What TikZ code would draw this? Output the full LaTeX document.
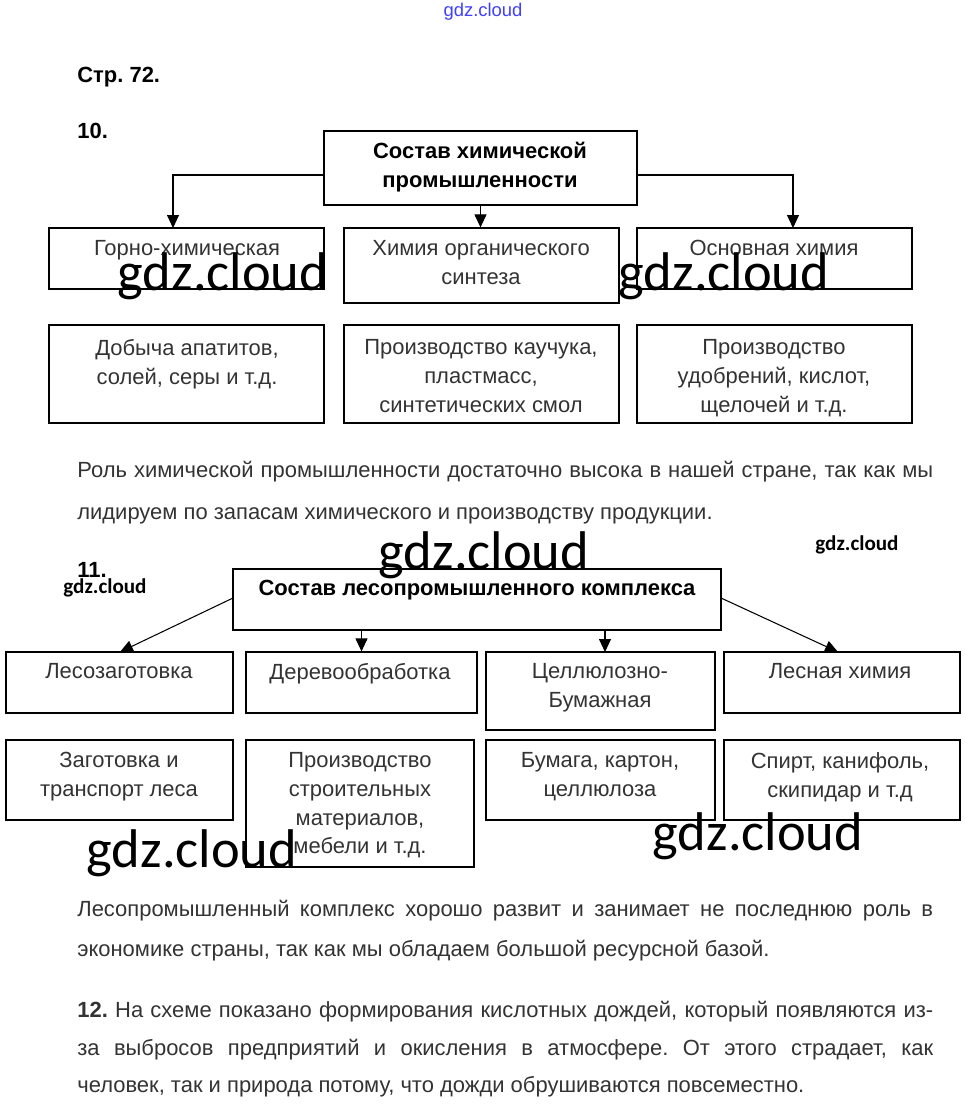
\documentclass[tikz,border=0pt]{standalone}
\usepackage{fontspec}
\setmainfont{Liberation Sans}
\newfontfamily\wmfont{Carlito}
\usetikzlibrary{arrows.meta,fit}
\frenchspacing

\begin{document}
\begin{tikzpicture}[x=0.02cm,y=-0.02cm,
	box/.style={draw,line width=0.7pt,inner sep=0pt},
	boxtxt/.style={anchor=north,align=center,inner sep=0pt,text=black!80,font=\fontsize{12.5}{16.4}\selectfont},
	head/.style={anchor=north,align=center,inner sep=0pt,font=\bfseries\fontsize{12.5}{16.4}\selectfont},
	para/.style={anchor=base west,inner sep=0pt,text=black!80,font=\fontsize{12.5}{15}\selectfont},
	num/.style={anchor=base west,inner sep=0pt,font=\bfseries\fontsize{12.5}{15}\selectfont},
	wm/.style={inner sep=0pt,font=\wmfont\fontsize{31}{31}\selectfont},
	wmsmall/.style={inner sep=0pt,font=\wmfont\bfseries\fontsize{12}{12}\selectfont},
	arr/.style={line width=0.6pt,-{Triangle[length=2.6mm,width=2.4mm]}}]
	\useasboundingbox (0,0) rectangle (966,1112);
	
	\node[inner sep=0pt,text=blue!75,font=\fontsize{10.5}{11}\selectfont] (wmtop) at (483,12) {gdz.cloud};
	\node[num] (str) at (77,82) {Стр. 72.};
	
	% 10
	\node[num] (n10) at (77,138) {10.};
	\node[box,fit={(324,131) (637,205)}] (sostav) {};
	\node[head] (sostavT) at (480,142) {Состав химической\\промышленности};
	
	\node[box,fit={(49,228) (324,289)}] (gorno) {};
	\node[box,fit={(344,228) (619,303)}] (organ) {};
	\node[box,fit={(637,228) (912,289)}] (osnov) {};
	\node[boxtxt] (gornoT) at (187,240) {Горно-химическая};
	\node[boxtxt] (organT) at (481,240) {Химия органического\\синтеза};
	\node[boxtxt] (osnovT) at (774,240) {Основная химия};
	
	\node[box,fit={(49,325) (324,423)}] (dobycha) {};
	\node[box,fit={(344,325) (619,423)}] (kauchuk) {};
	\node[box,fit={(637,325) (912,423)}] (udobr) {};
	\node[boxtxt] (dobychaT) at (187,339) {Добыча апатитов,\\солей, серы и т.д.};
	\node[boxtxt] (kauchukT) at (481,339) {Производство каучука,\\пластмасс,\\синтетических смол};
	\node[boxtxt] (udobrT) at (774,339) {Производство\\удобрений, кислот,\\щелочей и т.д.};
	
	\coordinate (sL) at (324,175);
	\coordinate (sR) at (637,175);
	\coordinate (gornoIn) at (173,228);
	\coordinate (osnovIn) at (793,228);
	\draw[arr] (sL) -| (gornoIn);
	\draw[arr] (sostav.south) -- (sostav.south |- organ.north);
	\draw[arr] (sR) -| (osnovIn);
	
	\node[para] (rol1) at (77,477) {\makebox[17.12cm][s]{Роль химической промышленности достаточно высока в нашей стране, так как мы}};
	\node[para] (rol2) at (77,519) {лидируем по запасам химического и производству продукции.};
	
	% 11
	\node[num] (n11) at (77,577) {11.};
	\node[box,fit={(233,569) (721,630)}] (lesprom) {};
	\node[head] (lespromT) at (477,580) {Состав лесопромышленного комплекса};
	
	\node[box,fit={(6,652) (233,713)}] (zagot) {};
	\node[box,fit={(246,652) (477,713)}] (derevo) {};
	\node[box,fit={(486,652) (715,730)}] (cellul) {};
	\node[box,fit={(724,652) (960,713)}] (leshim) {};
	\node[boxtxt] (zagotT) at (119,663) {Лесозаготовка};
	\node[boxtxt] (derevoT) at (360,663) {Деревообработка};
	\node[boxtxt] (cellulT) at (600,663) {Целлюлозно-\\Бумажная};
	\node[boxtxt] (leshimT) at (840,663) {Лесная химия};
	
	\node[box,fit={(6,740) (233,820)}] (transp) {};
	\node[box,fit={(246,740) (474,867)}] (stroi) {};
	\node[box,fit={(486,740) (715,820)}] (bumaga) {};
	\node[box,fit={(724,740) (960,820)}] (spirt) {};
	\node[boxtxt] (transpT) at (119,752) {Заготовка и\\транспорт леса};
	\node[boxtxt] (stroiT) at (360,752) {Производство\\строительных\\материалов,\\мебели и т.д.};
	\node[boxtxt] (bumagaT) at (600,752) {Бумага, картон,\\целлюлоза};
	\node[boxtxt] (spirtT) at (840,752) {Спирт, канифоль,\\скипидар и т.д};
	
	\coordinate (lL) at (233,598);
	\coordinate (lR) at (721,598);
	\coordinate (zagotIn) at (120,652);
	\coordinate (cellulIn) at (605,652);
	\coordinate (leshimIn) at (838,652);
	\draw[arr] (lL) -- (zagotIn);
	\draw[arr] (lesprom.south -| derevo.north) -- (derevo.north);
	\draw[arr] (lesprom.south -| cellulIn) -- (cellulIn);
	\draw[arr] (lR) -- (leshimIn);
	
	\node[para] (les1) at (77,916) {\makebox[17.12cm][s]{Лесопромышленный комплекс хорошо развит и занимает не последнюю роль в}};
	\node[para] (les2) at (77,956) {экономике страны, так как мы обладаем большой ресурсной базой.};
	
	% 12
	\node[para] (kis1) at (77,1017) {\makebox[17.12cm][s]{\textbf{12.} На схеме показано формирования кислотных дождей, который появляются из-}};
	\node[para] (kis2) at (77,1055) {\makebox[17.12cm][s]{за выбросов предприятий и окисления в атмосфере. От этого страдает, как}};
	\node[para] (kis3) at (77,1092) {человек, так и природа потому, что дожди обрушиваются повсеместно.};
	
	% watermarks
	\node[wm] (wm1) at (223,276) {gdz.cloud};
	\node[wm] (wm2) at (724,276) {gdz.cloud};
	\node[wm] (wm3) at (484,555) {gdz.cloud};
	\node[wm] (wm4) at (192,853) {gdz.cloud};
	\node[wm] (wm5) at (758,836) {gdz.cloud};
	\node[wmsmall] (wm6) at (105,588) {gdz.cloud};
	\node[wmsmall] (wm7) at (857,545) {gdz.cloud};
\end{tikzpicture}
\end{document}
